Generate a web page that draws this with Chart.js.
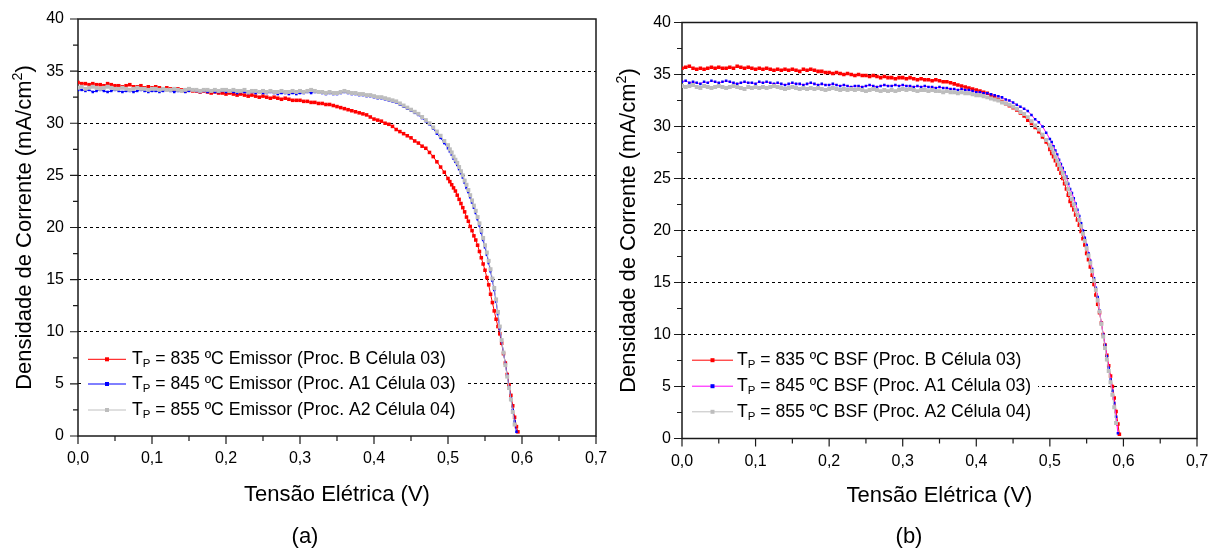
<!DOCTYPE html>
<html><head><meta charset="utf-8">
<script src="https://cdn.jsdelivr.net/npm/chart.js@4.4.1/dist/chart.umd.min.js"></script>
<style>
html,body{margin:0;padding:0;background:#fff;width:1219px;height:552px;overflow:hidden}
#ca{position:absolute;left:0;top:0}
#cb{position:absolute;left:610px;top:0}
</style></head><body>
<canvas id="ca" width="610" height="552"></canvas>
<canvas id="cb" width="609" height="552"></canvas>
<script>
// ---------- DATA ----------
const volts = [0,0.005,0.01,0.015,0.02,0.025,0.03,0.035,0.04,0.045,0.05,0.055,0.06,0.065,0.07,0.075,0.08,0.085,0.09,0.095,
0.1,0.105,0.11,0.115,0.12,0.125,0.13,0.135,0.14,0.145,0.15,0.155,0.16,0.165,0.17,0.175,0.18,0.185,0.19,0.195,
0.2,0.205,0.21,0.215,0.22,0.225,0.23,0.235,0.24,0.245,0.25,0.255,0.26,0.265,0.27,0.275,0.28,0.285,0.29,0.295,
0.3,0.305,0.31,0.315,0.32,0.325,0.33,0.335,0.34,0.345,0.35,0.355,0.36,0.365,0.37,0.375,0.38,0.385,0.39,0.395,
0.4,0.405,0.41,0.415,0.42,0.425,0.43,0.435,0.44,0.445,0.45,0.455,0.46,0.465,0.47,0.475,0.48,0.485,0.49,0.495,
0.5,0.5025,0.505,0.5075,0.51,0.5125,0.515,0.5175,0.52,0.5225,0.525,0.5275,0.53,0.5325,0.535,0.5375,0.54,0.5425,0.545,0.5475,
0.55,0.5525,0.555,0.5575,0.56,0.5625,0.565,0.5675,0.57,0.5725,0.575,0.5775,0.58,0.5825,0.585,0.5875,0.59,0.5925,0.5945];

// (a) Emissor
const redA = [33.9,33.8,33.8,33.7,33.8,33.7,33.7,33.6,33.8,33.7,33.6,33.6,33.5,33.6,33.7,33.5,33.5,33.6,33.4,33.5,
33.4,33.5,33.4,33.3,33.4,33.3,33.2,33.3,33.2,33.1,33.2,33.1,33.1,33.0,33.1,33.0,32.9,33.0,32.9,32.9,
32.8,32.9,32.8,32.7,32.8,32.7,32.6,32.7,32.6,32.5,32.6,32.5,32.4,32.5,32.4,32.3,32.4,32.3,32.2,32.2,
32.2,32.1,32.1,32.0,32.0,31.9,31.9,31.8,31.8,31.7,31.6,31.5,31.4,31.3,31.2,31.1,31.0,30.9,30.8,30.6,
30.4,30.3,30.2,30.0,29.9,29.7,29.4,29.2,29.0,28.8,28.6,28.3,28.1,27.8,27.6,27.2,26.8,26.3,25.8,25.3,
24.7,24.4,24.1,23.8,23.5,23.1,22.7,22.3,21.9,21.5,21.0,20.6,20.1,19.7,19.2,18.8,18.3,17.7,17.1,16.5,
15.9,15.2,14.5,13.6,12.8,12.0,11.2,10.5,9.8,8.9,7.9,7.0,5.9,4.9,3.9,2.9,1.8,0.9,0.4];
const blueA = [33.2,33.2,33.1,33.2,33.0,33.1,33.2,33.1,33.0,33.1,33.2,33.1,33.0,33.1,33.1,33.0,33.1,33.2,33.1,33.0,
33.1,33.1,33.0,33.1,33.2,33.1,33.0,33.1,33.1,33.0,33.1,33.2,33.1,33.0,33.1,33.0,33.1,33.0,33.0,33.1,
33.0,33.1,33.0,32.9,33.0,33.0,32.9,33.0,32.9,33.0,32.9,32.9,33.0,32.9,32.8,32.9,32.9,32.8,32.9,32.8,
32.9,32.9,33.0,32.9,33.0,33.0,32.9,32.8,32.9,32.8,32.8,32.9,33.0,32.9,32.8,32.8,32.7,32.7,32.6,32.6,
32.5,32.4,32.4,32.3,32.2,32.1,32.0,31.8,31.6,31.4,31.2,31.0,30.8,30.5,30.2,29.9,29.5,29.0,28.6,28.1,
27.6,27.3,27.0,26.6,26.3,26.0,25.6,25.2,24.8,24.3,23.8,23.4,22.9,22.4,21.9,21.4,20.8,20.2,19.5,18.8,
18.1,17.4,16.6,15.8,14.9,14.0,12.9,11.7,10.3,9.1,8.0,6.9,5.8,4.7,3.6,2.5,1.4,0.4];
const grayA = [33.4,33.5,33.3,33.4,33.5,33.4,33.3,33.4,33.5,33.4,33.3,33.3,33.4,33.3,33.2,33.3,33.4,33.3,33.3,33.2,
33.3,33.3,33.2,33.3,33.2,33.2,33.3,33.2,33.1,33.2,33.3,33.2,33.2,33.1,33.2,33.2,33.1,33.2,33.1,33.2,
33.2,33.1,33.2,33.1,33.1,33.2,33.0,33.1,33.1,33.0,33.1,33.0,33.1,33.0,33.0,33.1,33.0,33.0,33.1,33.0,
33.1,33.0,33.1,33.2,33.1,33.0,33.0,32.9,33.0,32.9,32.9,33.0,33.1,33.0,32.9,32.9,32.8,32.8,32.7,32.7,
32.6,32.5,32.5,32.4,32.3,32.2,32.1,31.9,31.7,31.5,31.3,31.1,30.9,30.6,30.3,30.0,29.6,29.2,28.8,28.3,
27.9,27.5,27.2,26.8,26.5,26.2,25.8,25.4,25.0,24.5,24.1,23.6,23.1,22.6,22.1,21.6,21.0,20.4,19.7,19.0,
18.3,17.6,16.8,16.0,15.1,14.2,13.1,11.9,10.5,9.2,8.0,6.8,5.7,4.6,3.5,2.3,1.1];

// (b) BSF
const redB = [35.6,35.7,35.8,35.6,35.5,35.6,35.5,35.6,35.7,35.6,35.7,35.6,35.6,35.7,35.6,35.8,35.7,35.6,35.7,35.6,
35.5,35.6,35.5,35.6,35.5,35.4,35.5,35.4,35.5,35.4,35.5,35.4,35.3,35.5,35.4,35.5,35.4,35.3,35.3,35.2,
35.2,35.1,35.2,35.1,35.0,35.1,35.0,34.9,35.0,34.9,34.9,34.8,34.9,34.8,34.7,34.8,34.7,34.7,34.6,34.7,
34.7,34.6,34.7,34.6,34.5,34.6,34.5,34.5,34.4,34.5,34.4,34.3,34.3,34.2,34.1,34.0,33.9,33.8,33.7,33.6,
33.5,33.4,33.3,33.2,33.0,32.8,32.6,32.4,32.2,32.0,31.8,31.6,31.3,31.0,30.6,30.3,29.9,29.5,29.0,28.5,
27.8,27.4,27.1,26.7,26.3,25.9,25.5,25.0,24.5,24.0,23.4,22.8,22.4,22.0,21.5,21.0,20.5,19.9,19.2,18.6,
17.8,17.2,16.5,15.7,14.8,13.8,12.9,12.1,11.1,10.0,9.0,8.0,7.0,6.0,5.0,3.9,2.6,1.4,0.4];
const blueB = [34.3,34.4,34.2,34.3,34.2,34.1,34.3,34.2,34.4,34.3,34.2,34.3,34.4,34.3,34.2,34.1,34.2,34.3,34.2,34.2,
34.1,34.3,34.2,34.3,34.2,34.1,34.2,34.1,34.0,34.1,34.2,34.1,34.1,34.0,34.1,34.2,34.1,34.0,34.1,34.0,
34.0,34.1,34.0,33.9,34.0,33.9,33.8,33.9,33.9,33.8,33.9,34.0,33.9,33.8,33.9,34.0,33.9,33.9,34.0,33.9,
34.0,33.9,33.9,33.8,33.9,33.8,33.9,33.8,33.8,33.7,33.8,33.7,33.7,33.6,33.6,33.5,33.6,33.5,33.5,33.4,
33.3,33.3,33.2,33.2,33.1,33.0,32.9,32.8,32.6,32.5,32.3,32.1,31.9,31.7,31.5,31.1,30.7,30.4,30.0,29.4,
28.8,28.5,28.1,27.7,27.3,26.8,26.4,26.0,25.6,25.2,24.5,24.0,23.6,23.1,22.6,22.0,21.4,20.7,20.0,19.3,
18.6,17.8,17.1,16.3,15.4,14.5,13.6,12.3,11.1,10.0,9.0,7.9,6.8,5.7,4.6,3.4,2.1,0.5];
const grayB = [33.9,33.8,33.9,34.0,33.8,33.7,33.9,33.8,33.7,33.8,33.9,33.8,33.7,33.8,33.9,33.8,33.7,33.6,33.8,33.7,
33.8,33.7,33.8,33.7,33.8,33.9,33.8,33.7,33.6,33.7,33.8,33.7,33.6,33.7,33.6,33.7,33.6,33.7,33.6,33.5,
33.6,33.7,33.6,33.5,33.6,33.5,33.6,33.5,33.6,33.5,33.4,33.5,33.6,33.5,33.4,33.5,33.4,33.5,33.4,33.5,
33.6,33.5,33.6,33.5,33.4,33.5,33.5,33.4,33.5,33.4,33.4,33.3,33.4,33.3,33.3,33.2,33.3,33.2,33.2,33.1,
33.0,33.0,32.9,32.8,32.7,32.6,32.5,32.3,32.2,32.1,31.9,31.7,31.4,31.2,30.9,30.5,30.1,29.7,29.2,28.7,
28.2,27.9,27.5,27.1,26.7,26.3,25.9,25.5,25.1,24.6,24.0,23.5,23.0,22.5,22.0,21.5,21.0,20.4,19.7,19.0,
18.3,17.6,16.9,16.1,15.2,14.3,13.3,12.2,11.0,9.8,8.7,7.6,6.5,5.4,4.2,3.0,1.5];

const xTickLabels = ['0,0','0,1','0,2','0,3','0,4','0,5','0,6','0,7'];
const yTickLabels = ['0','5','10','15','20','25','30','35','40'];
const legendA = ['T_P = 835 ºC Emissor (Proc. B Célula 03)','T_P = 845 ºC Emissor (Proc. A1 Célula 03)','T_P = 855 ºC Emissor (Proc. A2 Célula 04)'];
const legendB = ['T_P = 835 ºC BSF (Proc. B Célula 03)','T_P = 845 ºC BSF (Proc. A1 Célula 03)','T_P = 855 ºC BSF (Proc. A2 Célula 04)'];
const xTitle = 'Tensão Elétrica (V)';
const yTitle = 'Densidade de Corrente (mA/cm^2)';
const panelA = '(a)';
const panelB = '(b)';

// ---------- RENDERING ----------
const FAM = 'Arial, "Liberation Sans", sans-serif';
function pts(arr){ return arr.map((j,i)=>({x: volts[i], y: j})); }

function richText(ctx, x, y, text, size, draw){
  let cx = x, i = 0;
  while(i < text.length){
    const ch = text[i];
    if((ch === '_' || ch === '^') && i+1 < text.length){
      const c = text[i+1]; const s = size*0.65;
      ctx.font = s + 'px ' + FAM;
      if(draw) ctx.fillText(c, cx, y + (ch === '_' ? size*0.28 : -size*0.33));
      cx += ctx.measureText(c).width; i += 2; continue;
    }
    let j = i; while(j < text.length && text[j] !== '_' && text[j] !== '^') j++;
    const run = text.slice(i, j);
    ctx.font = size + 'px ' + FAM;
    if(draw) ctx.fillText(run, cx, y);
    cx += ctx.measureText(run).width; i = j;
  }
  return cx - x;
}

const decor = {
  id: 'decor',
  beforeDatasetsDraw(chart, args, o){
    const ctx = chart.ctx, a = chart.chartArea, xs = chart.scales.x, ys = chart.scales.y;
    ctx.save();
    ctx.strokeStyle = '#1a1a1a'; ctx.lineWidth = 1.5;
    ctx.strokeRect(a.left, a.top, a.right - a.left, a.bottom - a.top);
    ctx.beginPath();
    for(let k = 0; k <= 16; k++){
      const py = ys.getPixelForValue(k*2.5);
      const len = (k % 2 === 0) ? 8 : 5;
      ctx.moveTo(a.left - len, py); ctx.lineTo(a.left, py);
    }
    for(let k = 0; k <= 14; k++){
      const px = xs.getPixelForValue(k*0.05);
      const len = (k % 2 === 0) ? 8 : 5;
      ctx.moveTo(px, a.bottom); ctx.lineTo(px, a.bottom + len);
    }
    ctx.lineWidth = 1.2; ctx.stroke();
    ctx.restore();
  },
  afterDatasetsDraw(chart, args, o){
    const ctx = chart.ctx;
    ctx.save();
    ctx.fillStyle = '#fff';
    ctx.fillRect(o.box[0], o.box[1], o.box[2], o.box[3]);
    chart.data.datasets.forEach((ds, i) => {
      const y = o.rows[i];
      ctx.strokeStyle = ds.borderColor; ctx.lineWidth = 1;
      ctx.beginPath(); ctx.moveTo(o.lx0, y); ctx.lineTo(o.lx1, y); ctx.stroke();
      ctx.fillStyle = ds.pointBackgroundColor;
      const s = 4, mx = (o.lx0 + o.lx1)/2;
      ctx.fillRect(mx - s/2, y - s/2, s, s);
      ctx.fillStyle = '#000'; ctx.textBaseline = 'middle'; ctx.textAlign = 'left';
      richText(ctx, o.tx, y, o.labels[i], o.fs, true);
    });
    ctx.restore();
  },
  afterDraw(chart, args, o){
    const ctx = chart.ctx, a = chart.chartArea;
    ctx.save();
    ctx.fillStyle = '#000'; ctx.textBaseline = 'middle'; ctx.textAlign = 'left';
    const cx = (a.left + a.right)/2;
    let w = richText(ctx, 0, 0, xTitle, o.titleSize, false);
    richText(ctx, cx - w/2, o.xTitleY, xTitle, o.titleSize, true);
    ctx.save();
    ctx.translate(o.yTitleX, (a.top + a.bottom)/2);
    ctx.rotate(-Math.PI/2);
    w = richText(ctx, 0, 0, yTitle, o.titleSize, false);
    richText(ctx, -w/2, 0, yTitle, o.titleSize, true);
    ctx.restore();
    ctx.font = o.panelSize + 'px ' + FAM; ctx.textAlign = 'center';
    ctx.fillText(o.panel, o.panelX, o.panelY);
    ctx.restore();
  }
};

function ds(label, arr, line, pt, r, order){
  return { label, data: pts(arr), borderColor: line, backgroundColor: pt, pointBackgroundColor: pt,
    pointBorderColor: pt, pointBorderWidth: 0, pointStyle: 'rect', pointRadius: r, borderWidth: 1,
    tension: 0, order };
}

function makeChart(id, datasets, cfg){
  const tickFont = { family: FAM, size: 16 };
  return new Chart(document.getElementById(id), {
    type: 'line',
    data: { datasets },
    options: {
      responsive: false, animation: false, events: [],
      layout: { padding: { top: cfg.padTop, right: cfg.padRight, left: 0, bottom: 0 } },
      scales: {
        x: { type: 'linear', min: 0, max: 0.7,
          ticks: { stepSize: 0.1, padding: cfg.xPad, font: tickFont, color: '#000', maxRotation: 0, autoSkip: false,
            callback: (v, i) => xTickLabels[i] },
          grid: { display: false, drawTicks: false }, border: { display: false },
          afterFit: s => { s.height = cfg.xH; s.paddingLeft = 0; s.paddingRight = 0; } },
        y: { type: 'linear', min: 0, max: 40,
          ticks: { stepSize: 5, padding: cfg.yPad, font: tickFont, color: '#000',
            callback: (v, i) => yTickLabels[i] },
          grid: { drawTicks: false, lineWidth: 1,
            color: c => (c.tick && (c.tick.value === 0 || c.tick.value === 40)) ? 'rgba(0,0,0,0)' : '#000' },
          border: { display: false, dash: [3, 3] },
          afterFit: s => { s.width = cfg.yW; s.paddingTop = 0; s.paddingBottom = 0; } }
      },
      plugins: { legend: { display: false }, tooltip: { enabled: false }, decor: cfg.decor }
    },
    plugins: [decor]
  });
}

makeChart('ca', [
  ds(legendA[0], redA, '#ff0000', '#ff0000', 2.5, 2),
  ds(legendA[1], blueA, '#0000ff', '#0000ff', 1.8, 1),
  ds(legendA[2], grayA, '#c0c0c0', '#bdbdbd', 2.8, 0)
], { padTop: 19, padRight: 14, xH: 116, yW: 78, xPad: 13, yPad: 14,
  decor: { box: [82, 346, 385, 77], rows: [359.3, 384, 410], lx0: 88, lx1: 126, tx: 132, fs: 17.6, labels: legendA,
    titleSize: 22, xTitleY: 495, yTitleX: 25, panel: panelA, panelX: 305, panelY: 537, panelSize: 22 } });

makeChart('cb', [
  ds(legendB[0], redB, '#ff0000', '#ff0000', 2.5, 2),
  ds(legendB[1], blueB, '#ff00ff', '#0000ff', 1.8, 1),
  ds(legendB[2], grayB, '#c0c0c0', '#bdbdbd', 2.8, 0)
], { padTop: 22.5, padRight: 22, xH: 113.5, yW: 72, xPad: 13, yPad: 11,
  decor: { box: [76, 347, 352, 77], rows: [360.2, 386.2, 411.8], lx0: 82, lx1: 123, tx: 127, fs: 17.6, labels: legendB,
    titleSize: 22, xTitleY: 496, yTitleX: 19, panel: panelB, panelX: 299, panelY: 537, panelSize: 22 } });
</script>
</body></html>
